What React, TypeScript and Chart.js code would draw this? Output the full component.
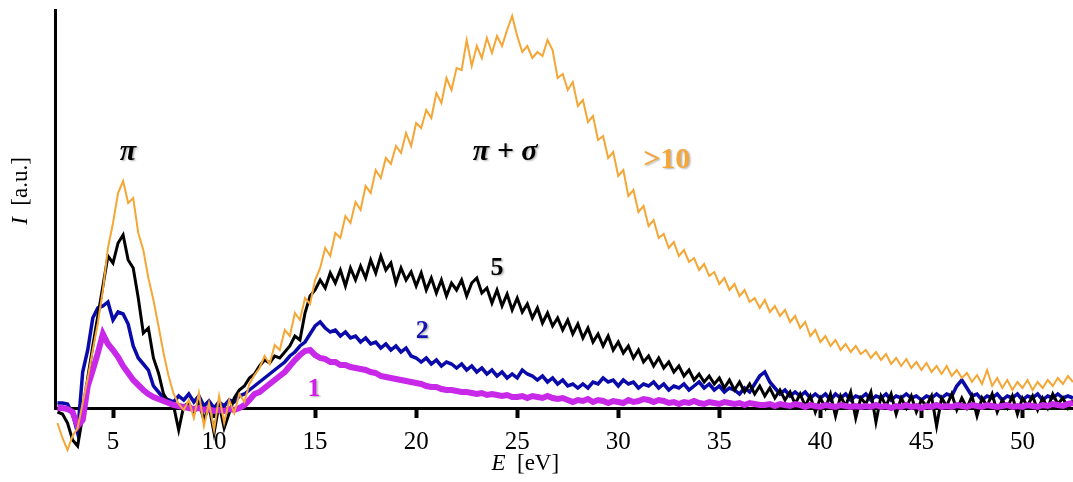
import React, { useEffect, useRef } from 'react';
import { Chart, registerables } from 'chart.js';

Chart.register(...registerables);

// Energy sampling grid (eV)
const E_START = 2.25;
const E_STEP = 0.25;

// Intensities (a.u.) per number of layers
const intensityOver10 = [
  -15, -30, -42, -28, -20, 5, 30, 58, 85, 118, 160, 185, 215, 227, 205, 210, 175, 158, 130, 108,
  82, 55, 32, 14, 4, -2, 8, -10, 15, -18, 5, -22, 12, -15, 8, -5, 14, 6, 24, 33,
  40, 52, 44, 63, 58, 78, 72, 95, 88, 110, 104, 128, 140, 160, 152, 175, 170, 192, 185, 206,
  198, 222, 215, 238, 230, 250, 244, 262, 255, 275, 262, 285, 280, 298, 290, 315, 305, 330, 318, 340,
  338, 368, 342, 362, 350, 370, 355, 372, 362, 378, 392, 372, 356, 362, 350, 356, 352, 368, 358, 330,
  334, 318, 326, 302, 308, 286, 292, 268, 272, 250, 256, 232, 238, 212, 218, 196, 202, 182, 188, 170,
  174, 160, 166, 152, 158, 146, 150, 138, 144, 132, 136, 124, 130, 118, 124, 112, 118, 106, 110, 100,
  108, 96, 102, 92, 98, 86, 92, 80, 86, 72, 78, 66, 72, 62, 68, 58, 64, 56, 62, 54,
  58, 50, 56, 48, 54, 44, 50, 42, 49, 40, 46, 38, 45, 36, 42, 34, 42, 32, 38, 30,
  35, 26, 33, 24, 38, 22, 30, 20, 28, 18, 26, 20, 28, 18, 26, 20, 28, 22, 30, 24,
  32, 26,
];

const intensity5 = [
  -4, -6, -15, -32, -38, -8, 30, 62, 92, 122, 152, 145, 165, 173, 148, 140, 110, 75, 80, 50,
  35, 14, 6, 2, -22, 2, 5, -5, 6, -12, 2, -25, 4, -20, -5, 10, 18, 22, 30, 34,
  42, 48, 45, 52, 50, 56, 62, 72, 68, 95, 112, 118, 128, 120, 135, 125, 138, 122, 140, 128,
  142, 130, 148, 135, 152, 138, 145, 125, 140, 128, 136, 122, 135, 118, 130, 115, 128, 112, 125, 118,
  128, 112, 125, 130, 115, 120, 105, 118, 102, 114, 98, 110, 96, 104, 90, 100, 85, 95, 82, 90,
  78, 88, 74, 84, 70, 80, 66, 74, 62, 72, 58, 66, 55, 62, 50, 58, 46, 52, 42, 50,
  40, 46, 36, 42, 32, 38, 28, 34, 26, 32, 24, 30, 20, 28, 18, 26, 16, 24, 14, 22,
  12, 20, 10, 18, 8, 16, 4, 14, 2, 12, -4, 10, 0, 14, -8, 12, 2, 16, -10, 10,
  4, 16, -14, 12, 2, 14, -6, 10, 0, 12, -4, 8, 2, 12, -18, 10, 2, 14, -2, 10,
  0, 12, -8, 10, 2, 14, -4, 8, 0, 12, -6, 10, 2, 12, -2, 10, 0, 14, 4, 10,
  0, 8,
];

const intensity2 = [
  5, 5, 4, -6, -25, 36, 58, 90, 100, 102, 106, 88, 96, 94, 84, 62, 50, 44, 38, 22,
  16, 10, 8, 6, 12, 8, 14, 6, 12, 2, 7, 0, 6, 2, 8, 6, 12, 14, 18, 22,
  26, 30, 34, 38, 42, 46, 52, 56, 62, 66, 74, 82, 86, 80, 76, 78, 72, 76, 70, 72,
  66, 70, 64, 66, 60, 64, 58, 62, 56, 60, 52, 50, 46, 50, 44, 48, 42, 46, 44, 40,
  44, 38, 42, 36, 40, 34, 38, 32, 36, 30, 34, 30, 38, 34, 32, 28, 32, 26, 30, 24,
  28, 22, 24, 20, 24, 20, 26, 24, 30, 26, 28, 22, 28, 24, 26, 20, 24, 22, 26, 20,
  24, 18, 22, 20, 24, 18, 22, 26, 20, 24, 18, 22, 16, 20, 18, 14, 20, 16, 24, 32,
  36, 26, 20, 14, 18, 12, 16, 12, 16, 10, 14, 10, 14, 8, 14, 10, 14, 8, 12, 10,
  14, 8, 12, 10, 14, 8, 12, 10, 14, 10, 12, 8, 12, 10, 14, 10, 14, 12, 22, 28,
  20, 12, 14, 8, 12, 10, 14, 8, 12, 10, 14, 8, 12, 10, 14, 8, 12, 10, 14, 10,
  12, 10,
];

const intensity1 = [
  0, 0, -1, -4, -18, -12, 22, 38, 55, 74, 64, 58, 51, 42, 35, 28, 23, 18, 14, 11,
  9, 7, 5, 3, 2, 1, 0, -1, 0, -2, -1, -3, -2, -3, -1, -2, 0, 3, 8, 14,
  16, 20, 24, 28, 32, 36, 42, 48, 53, 57, 58, 53, 50, 49, 46, 46, 43, 43, 41, 40,
  39, 38, 36, 35, 32, 31, 30, 29, 28, 27, 26, 25, 24, 22, 21, 21, 19, 18, 18, 17,
  16, 16, 15, 14, 15, 13, 14, 13, 12, 13, 11, 11, 12, 10, 12, 11, 10, 12, 10, 9,
  10, 8, 6, 8, 7, 9, 6, 8, 7, 5, 7, 6, 5, 8, 6, 7, 9, 8, 6, 8,
  7, 5, 6, 4, 6, 5, 7, 5, 4, 6, 5, 4, 6, 5, 4, 5, 3, 5, 4, 3,
  3, 4, 2, 4, 3, 2, 4, 3, 1, 3, 2, 1, 3, 2, 1, 3, 2, 1, 2, 1,
  2, 1, 3, 1, 2, 0, 2, 1, 3, 1, 2, 0, 2, 1, 3, 1, 2, 1, 3, 2,
  1, 3, 2, 1, 3, 2, 1, 2, 3, 1, 2, 1, 3, 2, 1, 3, 2, 4, 3, 2,
  4, 5,
];

const energies = intensityOver10.map((_, i) => E_START + i * E_STEP);

const xTickValues = [5, 10, 15, 20, 25, 30, 35, 40, 45, 50];

const X_MIN = 2.13;
const X_MAX = 52.5;
const Y_MIN = 0;
const Y_MAX = 398;

// Text annotations placed in data coordinates
const annotations = [
  { text: 'π', e: 5.74, v: 256, color: '#000000', font: 'bold italic 30px "Liberation Serif"' },
  { text: 'π + σ', e: 24.4, v: 256, color: '#000000', font: 'bold italic 30px "Liberation Serif"' },
  { text: '>10', e: 32.4, v: 248, color: '#F5A63A', font: 'bold 30px "Liberation Serif"' },
  { text: '5', e: 24.0, v: 140, color: '#000000', font: 'bold 26px "Liberation Serif"' },
  { text: '2', e: 20.3, v: 77, color: '#1414B0', font: 'bold 26px "Liberation Serif"' },
  { text: '1', e: 14.95, v: 19, color: '#D21EE6', font: 'bold 26px "Liberation Serif"' },
];

const toPoints = (vals: number[]) => vals.map((v, i) => ({ x: energies[i], y: v }));

function drawComposite(ctx: CanvasRenderingContext2D, parts: { t: string; f: string }[], cx: number, cy: number) {
  let total = 0;
  const widths = parts.map((p) => {
    ctx.font = p.f;
    const w = ctx.measureText(p.t).width;
    total += w;
    return w;
  });
  let x = cx - total / 2;
  ctx.textAlign = 'left';
  ctx.textBaseline = 'middle';
  parts.forEach((p, i) => {
    ctx.font = p.f;
    ctx.fillText(p.t, x, cy);
    x += widths[i];
  });
}

const textPlugin = {
  id: 'textPlugin',
  afterDatasetsDraw(chart: any) {
    const { ctx, scales } = chart;
    const xs = scales.x;
    const ys = scales.y;
    ctx.save();
    annotations.forEach((a) => {
      ctx.font = a.font;
      ctx.fillStyle = a.color;
      ctx.textAlign = 'center';
      ctx.textBaseline = 'middle';
      ctx.shadowColor = 'rgba(0,0,0,0.3)';
      ctx.shadowOffsetX = 1.5;
      ctx.shadowOffsetY = 1.5;
      ctx.shadowBlur = 2;
      ctx.fillText(a.text, xs.getPixelForValue(a.e), ys.getPixelForValue(a.v));
    });
    ctx.restore();

    // axis titles
    ctx.save();
    ctx.fillStyle = '#000';
    const serif = '"Liberation Serif"';
    drawComposite(
      ctx,
      [
        { t: 'E', f: `italic 23px ${serif}` },
        { t: '  [eV]', f: `23px ${serif}` },
      ],
      xs.getPixelForValue(25.4),
      xs.bottom - 18
    );
    ctx.translate(ys.left + 21, ys.getPixelForValue(217));
    ctx.rotate(-Math.PI / 2);
    drawComposite(
      ctx,
      [
        { t: 'I', f: `italic 23px ${serif}` },
        { t: '  [a.u.]', f: `23px ${serif}` },
      ],
      0,
      0
    );
    ctx.restore();
  },
};

export default function App() {
  const canvasRef = useRef<HTMLCanvasElement | null>(null);

  useEffect(() => {
    if (!canvasRef.current) return;
    const chart = new Chart(canvasRef.current, {
      type: 'line',
      data: {
        datasets: [
          {
            label: '>10',
            data: toPoints(intensityOver10),
            borderColor: '#F4A636',
            borderWidth: 2,
            pointRadius: 0,
            tension: 0,
            clip: false as any,
          },
          {
            label: '1',
            data: toPoints(intensity1),
            borderColor: '#C828E8',
            borderWidth: 6,
            pointRadius: 0,
            tension: 0,
            clip: false as any,
          },
          {
            label: '5',
            data: toPoints(intensity5),
            borderColor: '#000000',
            borderWidth: 3,
            pointRadius: 0,
            tension: 0,
            clip: false as any,
          },
          {
            label: '2',
            data: toPoints(intensity2),
            borderColor: '#0A0AAA',
            borderWidth: 3.5,
            pointRadius: 0,
            tension: 0,
            clip: false as any,
          },
        ],
      },
      options: {
        animation: false,
        responsive: false,
        devicePixelRatio: 1,
        layout: { padding: { top: 10, left: 0, right: 0, bottom: 0 } },
        plugins: {
          legend: { display: false },
          tooltip: { enabled: false },
          title: { display: false },
        },
        scales: {
          x: {
            type: 'linear',
            min: X_MIN,
            max: X_MAX,
            afterBuildTicks: (scale: any) => {
              scale.ticks = xTickValues.map((v) => ({ value: v }));
            },
            afterFit: (scale: any) => {
              scale.height = 74;
            },
            grid: {
              display: true,
              drawOnChartArea: false,
              drawTicks: true,
              tickLength: 10,
              tickWidth: 4,
              tickColor: '#000',
              color: '#000',
            },
            border: { display: true, color: '#000', width: 3 },
            ticks: {
              color: '#000',
              padding: 9,
              maxRotation: 0,
              autoSkip: false,
              font: { family: '"Liberation Serif"', size: 25 },
            },
          },
          y: {
            type: 'linear',
            min: Y_MIN,
            max: Y_MAX,
            afterFit: (scale: any) => {
              scale.width = 55;
            },
            grid: { display: false },
            border: { display: true, color: '#000', width: 3 },
            ticks: { display: false },
          },
        },
      },
      plugins: [textPlugin],
    });
    return () => chart.destroy();
  }, []);

  return (
    <div style={{ position: 'absolute', left: 0, top: 0, width: 1073, height: 482, background: '#fff' }}>
      <canvas ref={canvasRef} width={1073} height={482} style={{ display: 'block', width: 1073, height: 482 }} />
    </div>
  );
}
